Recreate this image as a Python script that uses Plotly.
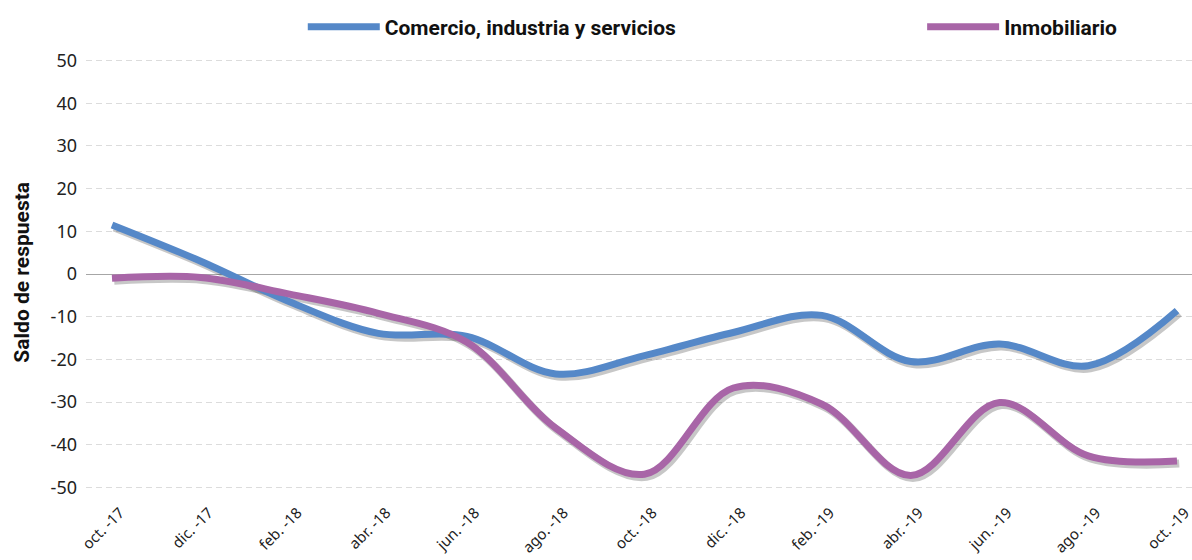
import plotly.graph_objects as go

categorias = ["oct. -17", "dic. -17", "feb. -18", "abr. -18", "jun. -18", "ago. -18", "oct. -18",
              "dic. -18", "feb. -19", "abr. -19", "jun. -19", "ago. -19", "oct. -19"]
comercio = [11.5, 3.0, -6.5, -13.9, -14.6, -23.4, -19.1, -13.7, -9.7, -20.5, -16.4, -21.5, -8.6]
inmobiliario = [-1.0, -0.8, -4.7, -9.2, -16.0, -36.1, -46.9, -26.7, -30.5, -47.2, -30.1, -42.6, -43.8]
yticks = [50, 40, 30, 20, 10, 0, -10, -20, -30, -40, -50]

idx = list(range(len(categorias)))
BLUE = "#5588C8"
PURPLE = "#A865A7"
SHADOW = "rgba(0,0,0,0.22)"
COND = "Liberation Sans Narrow, Roboto, sans-serif"
TICKF = "Noto Sans, Open Sans, sans-serif"

XR = [-0.293, 12.169]
YR = [-52, 52]
# shadow offset (style only): a couple of pixels right/down
SX, SY = 0.025, 0.6

fig = go.Figure()
# drop shadows on base axes (hidden, slightly shifted ranges)
for ser in (comercio, inmobiliario):
    fig.add_trace(go.Scatter(x=idx, y=ser, mode="lines", showlegend=False, hoverinfo="skip",
                             line=dict(color=SHADOW, width=8, shape="spline", smoothing=1),
                             xaxis="x", yaxis="y"))
fig.add_trace(go.Scatter(x=idx, y=comercio, mode="lines", name="Comercio, industria y servicios",
                         line=dict(color=BLUE, width=7, shape="spline", smoothing=1),
                         legend="legend", xaxis="x2", yaxis="y2"))
fig.add_trace(go.Scatter(x=idx, y=inmobiliario, mode="lines", name="Inmobiliario",
                         line=dict(color=PURPLE, width=7, shape="spline", smoothing=1),
                         legend="legend2", xaxis="x2", yaxis="y2"))

legfont = dict(family=COND, size=21, color="#111111", weight="bold")
fig.update_layout(
    width=1192, height=560,
    margin=dict(l=86, r=0, t=52, b=64, autoexpand=False),
    paper_bgcolor="white", plot_bgcolor="white",
    showlegend=True,
    legend=dict(orientation="h", x=0.196, xanchor="left", y=1.056, yanchor="middle",
                font=legfont, itemwidth=72, bgcolor="rgba(0,0,0,0)"),
    legend2=dict(orientation="h", x=0.756, xanchor="left", y=1.056, yanchor="middle",
                 font=legfont, itemwidth=72, bgcolor="rgba(0,0,0,0)"),
    xaxis=dict(range=[XR[0] - SX, XR[1] - SX], visible=False, showgrid=False,
               zeroline=False, automargin=False),
    yaxis=dict(range=[YR[0] + SY, YR[1] + SY], visible=False, showgrid=False,
               zeroline=False, automargin=False),
    xaxis2=dict(range=XR, overlaying="x", side="bottom", tickmode="array",
                tickvals=idx, ticktext=categorias,
                tickangle=-45, showgrid=False, zeroline=False, showline=False,
                automargin=False, ticklabelstandoff=4, ticklabelshift=8,
                ticklabeloverflow="allow",
                tickfont=dict(family=TICKF, size=15, color="#222222")),
    yaxis2=dict(range=YR, overlaying="y", side="left", tickmode="array", tickvals=yticks,
                ticktext=[str(v) for v in yticks], automargin=False,
                showgrid=True, gridcolor="#DCDCDC", griddash="6px,4px", gridwidth=1,
                zeroline=True, zerolinecolor="#A6A6A6", zerolinewidth=1,
                showline=False, ticklabelstandoff=8,
                tickfont=dict(family=TICKF, size=18, color="#222222")),
    annotations=[dict(text="<b>Saldo de respuesta</b>", xref="paper", yref="paper",
                      x=-0.058, y=0.505, xanchor="center", yanchor="middle",
                      textangle=-90, showarrow=False,
                      font=dict(family=COND, size=21, color="#111111"))],
)

fig.write_html("out.html")
